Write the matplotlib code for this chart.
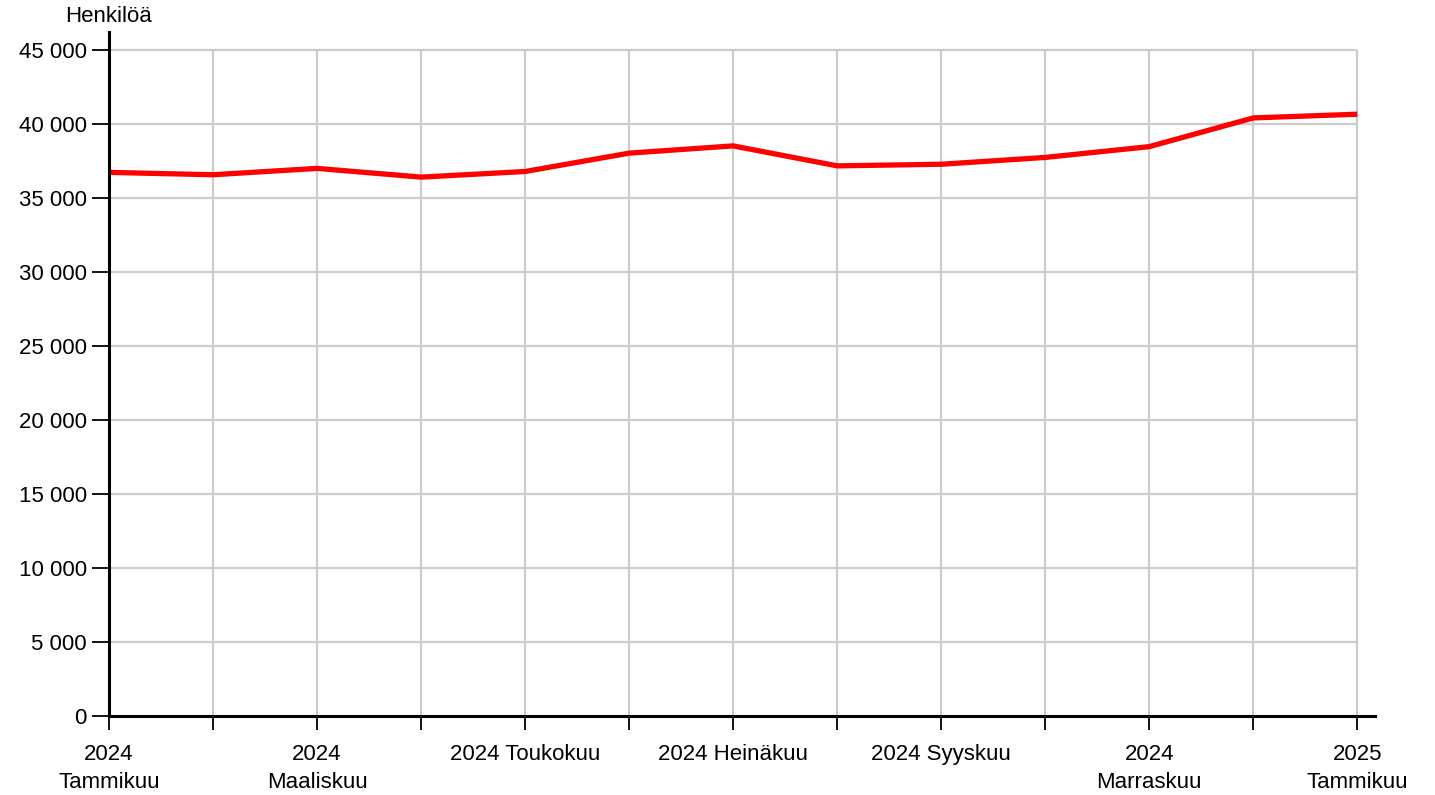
import matplotlib
matplotlib.use("Agg")
import matplotlib.pyplot as plt
import numpy as np

# Monthly values, Jan 2024 - Jan 2025
months = ["2024\nTammikuu", "", "2024\nMaaliskuu", "", "2024 Toukokuu", "",
          "2024 Heinäkuu", "", "2024 Syyskuu", "", "2024\nMarraskuu", "",
          "2025\nTammikuu"]
values = [36730, 36570, 37000, 36410, 36790, 38030, 38520,
          37170, 37280, 37740, 38470, 40410, 40660]
y_ticks = list(range(0, 45001, 5000))
y_labels = [f"{v:,}".replace(",", " ") for v in y_ticks]

plt.rcParams["font.family"] = ["Liberation Sans", "DejaVu Sans"]

fig = plt.figure(figsize=(14.35, 7.95), dpi=100)
ax = fig.add_axes([109 / 1435, 79 / 795, (1375 - 109) / 1435, (716 - 32) / 795])

x = np.arange(len(values))
ymax = y_ticks[-1]

# grid limited to the data range, like the original
ax.hlines(y_ticks[1:], 0, x[-1], color="#cccccc", lw=1.6, zorder=1)
ax.vlines(x[1:], 0, ymax, color="#cccccc", lw=1.6, zorder=1)

ax.plot(x, values, color="#ff0000", lw=3.8, solid_capstyle="butt", zorder=3)

ax.set_xlim(0, x[-1] + 0.17)
ax.set_ylim(0, ymax * 1.027)

ax.set_xticks(x)
ax.set_xticklabels(months, fontsize=16, linespacing=1.45, va="top")
ax.set_yticks(y_ticks)
ax.set_yticklabels(y_labels, fontsize=16)

for side in ("top", "right"):
    ax.spines[side].set_visible(False)
for side in ("left", "bottom"):
    ax.spines[side].set_linewidth(2.2)
    ax.spines[side].set_zorder(4)

ax.tick_params(axis="y", length=12, width=1.3, pad=4)
ax.tick_params(axis="x", length=10, width=1.3, pad=10)

fig.text(65 / 1435, 1 - 17 / 795, "Henkilöä", fontsize=16, va="center", ha="left")

fig.savefig("out.png", dpi=100, facecolor="white")
plt.close(fig)
